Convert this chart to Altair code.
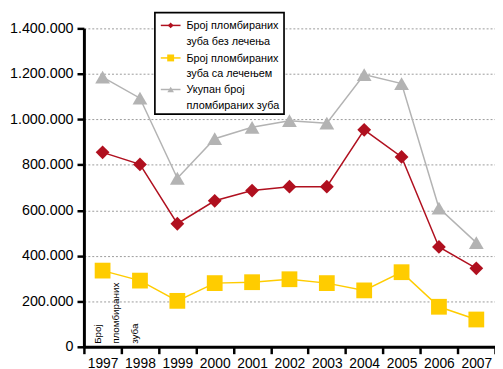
import altair as alt
import pandas as pd

years = ["1997", "1998", "1999", "2000", "2001", "2002", "2003", "2004", "2005", "2006", "2007"]
without_treatment = [855000, 802000, 541000, 642000, 687000, 704000, 704000, 954000, 835000, 439000, 345000]
with_treatment = [335000, 291000, 202000, 280000, 284000, 297000, 280000, 248000, 328000, 176000, 120000]
total_filled = [1186000, 1093000, 741000, 915000, 965000, 994000, 983000, 1197000, 1157000, 610000, 458000]

series_names = [
    "Број пломбираних|зуба без лечења",
    "Број пломбираних|зуба са лечењем",
    "Укупан број|пломбираних зуба",
]
series_colors = ["#B0101F", "#FFCC00", "#B3B3B3"]
marker_shapes = ["diamond", "square", "triangle-up"]
marker_sizes = [196, 256, 225]
legend_marker_sizes = [34, 49, 45]
y_ticks = [0, 200000, 400000, 600000, 800000, 1000000, 1200000, 1400000]
note_lines = ["Број", "пломбираних", "зуба"]

rows = []
for name, vals in zip(series_names, [without_treatment, with_treatment, total_filled]):
    for yr, v in zip(years, vals):
        rows.append({"year": yr, "series": name, "value": v})
df = pd.DataFrame(rows)

FONT = "Liberation Sans, Arial, sans-serif"

x_enc = alt.X(
    "year:O",
    sort=years,
    scale=alt.Scale(type="band", paddingInner=0, paddingOuter=0),
    axis=alt.Axis(
        title=None, labelAngle=0, tickBand="extent", labelFontSize=14, labelFont=FONT,
        labelColor="black", labelPadding=3, tickSize=7, tickWidth=2.5, tickColor="black",
        domainColor="black", domainWidth=3, grid=False,
    ),
)
y_enc = alt.Y(
    "value:Q",
    scale=alt.Scale(domain=[0, 1400000], nice=False),
    axis=alt.Axis(
        title=None, values=y_ticks,
        labelExpr="replace(replace(format(datum.value, ','), ',', '.'), ',', '.')",
        labelFontSize=14.5, labelFont=FONT, labelColor="black", labelPadding=4,
        tickSize=7, tickWidth=2.5, tickColor="black", domainColor="black", domainWidth=3,
        grid=True, gridDash=[2, 2], gridColor="#9a9a9a", gridWidth=1,
    ),
)
color_scale = alt.Scale(domain=series_names, range=series_colors)

base = alt.Chart(df)
layers = []
for i in [2, 0, 1]:
    name = series_names[i]
    sub = base.transform_filter(alt.datum.series == name)
    layers.append(
        sub.mark_line(strokeWidth=1.5).encode(
            x=x_enc, y=y_enc, color=alt.Color("series:N", scale=color_scale, legend=None)
        )
    )
    layers.append(
        sub.mark_point(shape=marker_shapes[i], size=marker_sizes[i], filled=True, opacity=1).encode(
            x=x_enc, y=y_enc, color=alt.Color("series:N", scale=color_scale, legend=None)
        )
    )

# legend (drawn by hand, in pixel positions relative to the plot area)
one = alt.Chart(pd.DataFrame({"n": [0]}))
legend_layers = [
    one.mark_rect(fill="white", stroke="black", strokeWidth=1.7).encode(
        x=alt.value(72), x2=alt.value(203), y=alt.value(-16), y2=alt.value(87)
    )
]
entry_y = [-3, 30, 62]
for i, name in enumerate(series_names):
    ey = entry_y[i]
    legend_layers.append(
        one.mark_rule(color=series_colors[i], strokeWidth=1.5).encode(
            x=alt.value(78), x2=alt.value(98), y=alt.value(ey)
        )
    )
    legend_layers.append(
        one.mark_point(shape=marker_shapes[i], size=legend_marker_sizes[i], filled=True,
                       opacity=1, color=series_colors[i]).encode(
            x=alt.value(88), y=alt.value(ey)
        )
    )
    legend_layers.append(
        one.mark_text(text=name.split("|"), align="left", baseline="alphabetic", font=FONT,
                      fontSize=11, lineHeight=15.5, color="black").encode(
            x=alt.value(104), y=alt.value(ey + 4)
        )
    )

note = one.mark_text(
    text=note_lines, angle=270, align="left", baseline="top", font=FONT, fontSize=10,
    lineHeight=19, color="black",
).encode(x=alt.value(9), y=alt.value(320))

chart = alt.layer(*layers, *legend_layers, note).properties(
    width=417, height=323,
    autosize=alt.AutoSizeParams(type="none"),
    padding={"left": 77, "top": 18, "right": 0, "bottom": 30},
).configure_view(stroke=None)

chart.save("out.html", embed_options={"renderer": "svg", "actions": False})
